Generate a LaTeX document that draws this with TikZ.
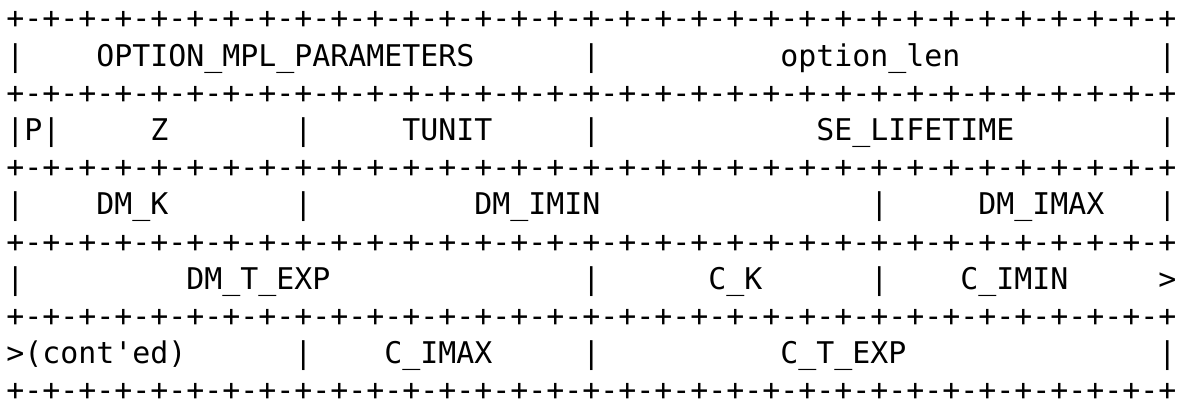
\documentclass[tikz,border=0pt]{standalone}
\usepackage{fontspec}
\setmonofont{DejaVu Sans Mono}
\usepackage{tikz}

\tikzset{
  ascii/.style={font=\ttfamily\fontsize{14.95}{18}\selectfont,
    inner sep=0pt, anchor=base west},
}
\newcommand{\bitrule}{+-+-+-+-+-+-+-+-+-+-+-+-+-+-+-+-+-+-+-+-+-+-+-+-+-+-+-+-+-+-+-+-+}

\begin{document}
\begin{tikzpicture}[x=9pt, y=18.6pt]
  \useasboundingbox (-0.833,0.777) rectangle (64.833,-10.083);

  % Bit rulers
  \foreach \r in {0,2,4,6,8,10}
    \node[ascii] (rule\r) at (-0.5,-\r) {\bitrule};

  % Row 1: option type and length
  \foreach \c in {0,32,64}
    \node[ascii] (barA\c) at (\c-0.5,-1) {|};
  \node[ascii] (optmpl) at (4.5,-1) {OPTION\_MPL\_PARAMETERS};
  \node[ascii] (optlen) at (42.5,-1) {option\_len};

  % Row 2: P, Z, TUNIT, lifetime
  \foreach \c in {0,2,16,32,64}
    \node[ascii] (barB\c) at (\c-0.5,-3) {|};
  \node[ascii] (pflag) at (0.5,-3) {P};
  \node[ascii] (zfield) at (7.5,-3) {Z};
  \node[ascii] (tunit) at (21.5,-3) {TUNIT};
  \node[ascii] (selife) at (44.5,-3) {SE\_LIFETIME};

  % Row 3: DM_K, DM_IMIN, DM_IMAX
  \foreach \c in {0,16,48,64}
    \node[ascii] (barC\c) at (\c-0.5,-5) {|};
  \node[ascii] (dmk) at (4.5,-5) {DM\_K};
  \node[ascii] (dmimin) at (25.5,-5) {DM\_IMIN};
  \node[ascii] (dmimax) at (53.5,-5) {DM\_IMAX};

  % Row 4: DM_T_EXP, C_K, C_IMIN (continued)
  \foreach \c in {0,32,48}
    \node[ascii] (barD\c) at (\c-0.5,-7) {|};
  \node[ascii] (dmtexp) at (9.5,-7) {DM\_T\_EXP};
  \node[ascii] (ck) at (38.5,-7) {C\_K};
  \node[ascii] (cimin) at (52.5,-7) {C\_IMIN};
  \node[ascii] (contA) at (63.5,-7) {>};

  % Row 5: rest of C_IMIN, C_IMAX, C_T_EXP
  \foreach \c in {16,32,64}
    \node[ascii] (barE\c) at (\c-0.5,-9) {|};
  \node[ascii] (contB) at (-0.5,-9) {>(cont'ed)};
  \node[ascii] (cimax) at (20.5,-9) {C\_IMAX};
  \node[ascii] (ctexp) at (42.5,-9) {C\_T\_EXP};
\end{tikzpicture}
\end{document}
